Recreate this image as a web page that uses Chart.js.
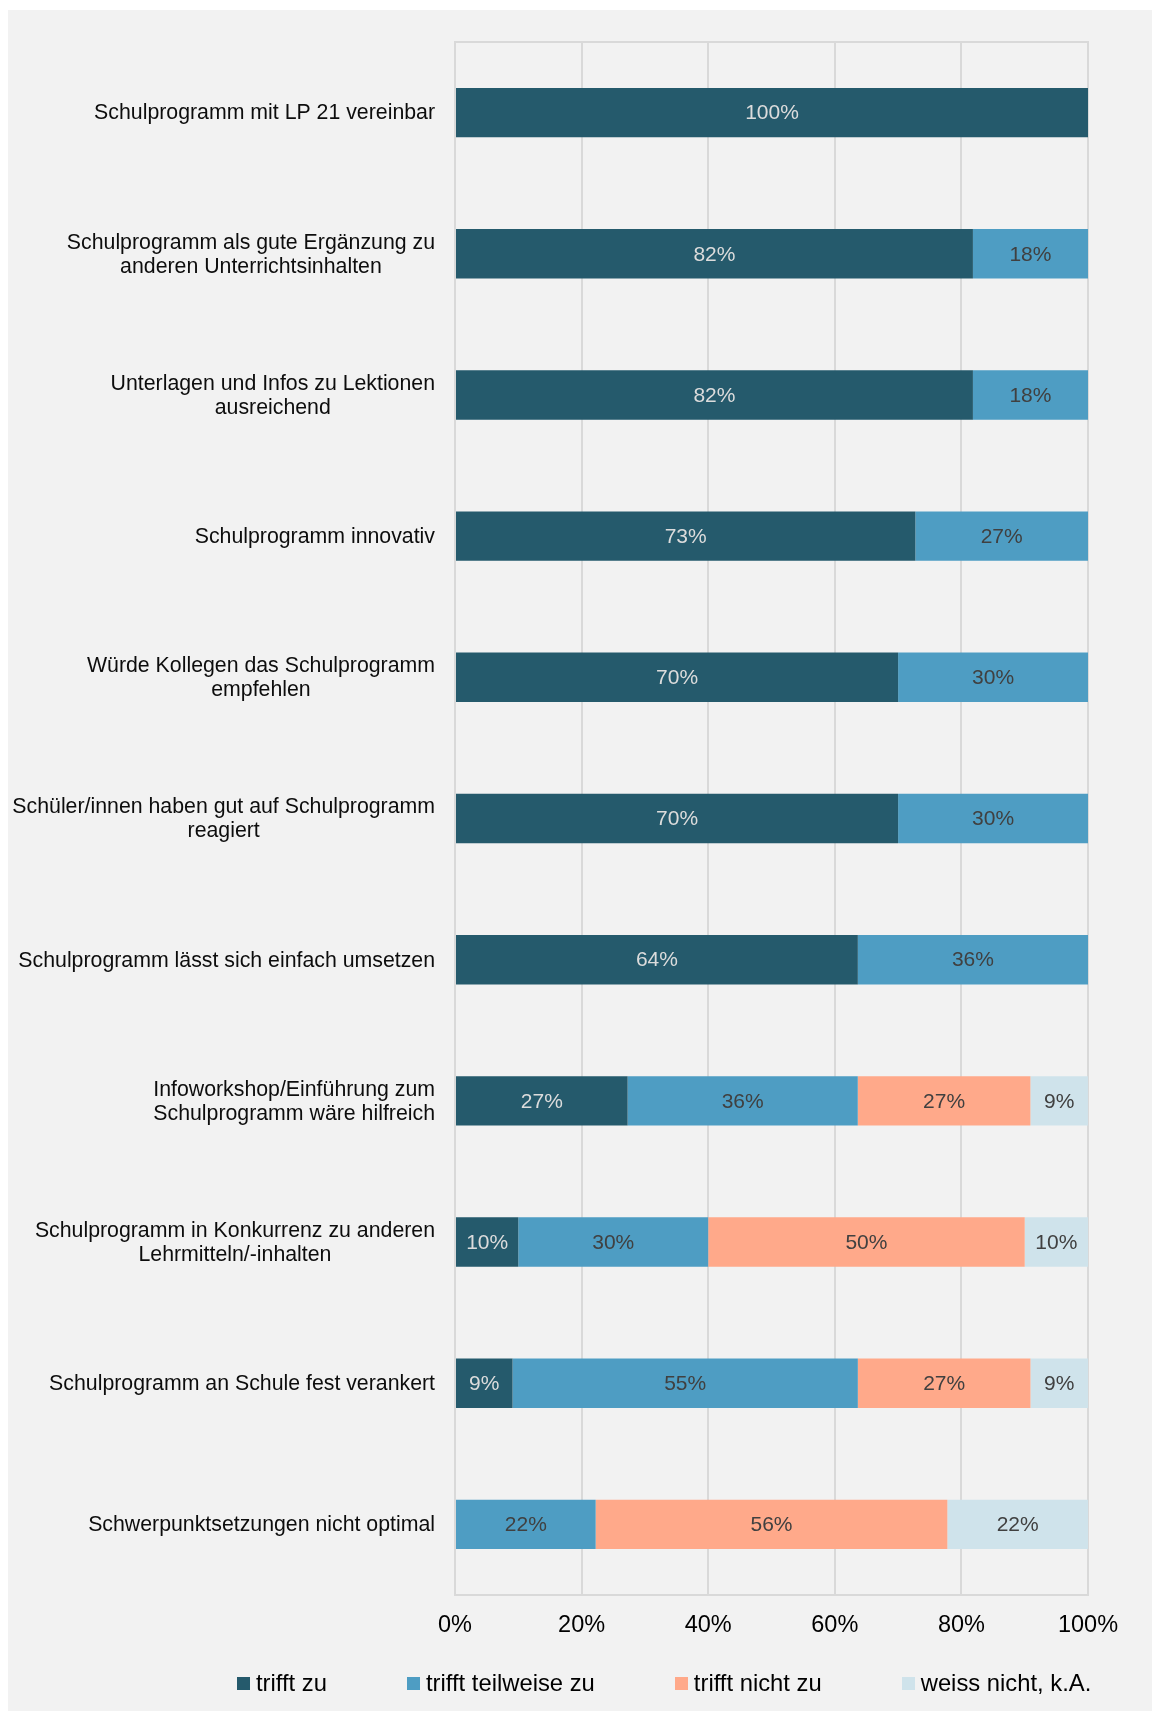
<!DOCTYPE html>
<html>
<head>
<meta charset="utf-8">
<script src="https://cdn.jsdelivr.net/npm/chart.js@4.4.1/dist/chart.umd.min.js"></script>
<style>
    html, body { margin: 0; padding: 0; background: #fff; }
    #wrap { position: relative; width: 1152px; height: 1711px; overflow: hidden; }
    #panel { position: absolute; left: 8px; top: 10px; right: 0; bottom: 0; background: #F2F2F2; }
    #chart { position: absolute; left: 0; top: 0; }
    #legend { position: absolute; left: 237px; top: 1669px; display: flex; align-items: center;
              font: 23.8px 'Liberation Sans', Arial, sans-serif; line-height: 28px; color: #000; white-space: nowrap; }
    .item { display: flex; align-items: center; margin-right: 80px; }
    .box { width: 13px; height: 13px; margin-right: 6px; }
</style>
</head>
<body>
<div id="wrap">
    <div id="panel"></div>
    <canvas id="chart" width="1152" height="1711"></canvas>
    <div id="legend"></div>
</div>
<script>
'use strict';

var categories = [
    ['Schulprogramm mit LP 21 vereinbar'],
    ['Schulprogramm als gute Ergänzung zu', 'anderen Unterrichtsinhalten'],
    ['Unterlagen und Infos zu Lektionen', 'ausreichend'],
    ['Schulprogramm innovativ'],
    ['Würde Kollegen das Schulprogramm', 'empfehlen'],
    ['Schüler/innen haben gut auf Schulprogramm', 'reagiert'],
    ['Schulprogramm lässt sich einfach umsetzen'],
    ['Infoworkshop/Einführung zum', 'Schulprogramm wäre hilfreich'],
    ['Schulprogramm in Konkurrenz zu anderen', 'Lehrmitteln/-inhalten'],
    ['Schulprogramm an Schule fest verankert'],
    ['Schwerpunktsetzungen nicht optimal']
];

var seriesNames = ['trifft zu', 'trifft teilweise zu', 'trifft nicht zu', 'weiss nicht, k.A.'];
var seriesColors = ['#255A6C', '#4E9DC3', '#FFA98A', '#CFE3EB'];

var trifftZu = [100, 81.82, 81.82, 72.73, 70, 70, 63.64, 27.27, 10, 9.09, 0];
var trifftTeilweise = [0, 18.18, 18.18, 27.27, 30, 30, 36.36, 36.36, 30, 54.55, 22.22];
var trifftNicht = [0, 0, 0, 0, 0, 0, 0, 27.27, 50, 27.27, 55.56];
var weissNicht = [0, 0, 0, 0, 0, 0, 0, 9.09, 10, 9.09, 22.22];

var xTicks = [0, 20, 40, 60, 80, 100];

var FONT = "'Liberation Sans', Arial, sans-serif";

// frame around the plot area
var plotFrame = {
    id: 'plotFrame',
    beforeDatasetsDraw(chart) {
        var a = chart.chartArea, ctx = chart.ctx;
        ctx.save();
        ctx.strokeStyle = '#D9D9D9';
        ctx.lineWidth = 2;
        ctx.strokeRect(a.left, a.top, a.right - a.left, a.bottom - a.top);
        ctx.restore();
    }
};

// percent labels inside the bars
var barLabels = {
    id: 'barLabels',
    afterDatasetsDraw(chart) {
        var ctx = chart.ctx;
        ctx.save();
        ctx.font = '21px ' + FONT;
        ctx.textAlign = 'center';
        ctx.textBaseline = 'middle';
        chart.data.datasets.forEach((ds, i) => {
            chart.getDatasetMeta(i).data.forEach((bar, j) => {
                var v = ds.data[j];
                if (!v) return;
                var p = bar.getCenterPoint();
                ctx.fillStyle = i === 0 ? '#DCDCDC' : '#404040';
                ctx.fillText(Math.round(v) + '%', p.x, p.y + 1);
            });
        });
        ctx.restore();
    }
};

// category labels: block right aligned, lines centred inside the block
var catLabels = {
    id: 'catLabels',
    afterDraw(chart) {
        var ctx = chart.ctx, y = chart.scales.y;
        var right = y.right - 20;
        ctx.save();
        ctx.font = '21.3px ' + FONT;
        ctx.fillStyle = '#0D0D0D';
        ctx.textAlign = 'center';
        ctx.textBaseline = 'middle';
        categories.forEach((lines, i) => {
            var cy = y.getPixelForValue(i) + 1;
            var w = Math.max.apply(null, lines.map(l => ctx.measureText(l).width));
            lines.forEach((l, k) => {
                ctx.fillText(l, right - w / 2, cy + (k - (lines.length - 1) / 2) * 24);
            });
        });
        ctx.restore();
    }
};

var seriesData = [trifftZu, trifftTeilweise, trifftNicht, weissNicht];

var chart = new Chart(document.getElementById('chart'), {
    type: 'bar',
    data: {
        labels: categories.map(l => l.join(' ')),
        datasets: seriesNames.map((name, i) => ({
            label: name,
            data: seriesData[i],
            backgroundColor: seriesColors[i],
            borderWidth: 0,
            barPercentage: 0.35,
            categoryPercentage: 1
        }))
    },
    options: {
        indexAxis: 'y',
        responsive: false,
        animation: false,
        events: [],
        layout: { padding: { left: 8, top: 42, right: 64, bottom: 56 } },
        plugins: {
            legend: { display: false },
            tooltip: { enabled: false }
        },
        scales: {
            x: {
                stacked: true,
                min: 0,
                max: 100,
                afterBuildTicks: s => { s.ticks = xTicks.map(v => ({ value: v })); },
                afterFit: s => { s.height = 60; },
                grid: { color: '#D9D9D9', lineWidth: 2, drawTicks: false },
                border: { display: false },
                ticks: {
                    padding: 16,
                    color: '#000',
                    font: { family: FONT, size: 23.5 },
                    callback: v => v + '%'
                }
            },
            y: {
                stacked: true,
                afterFit: s => { s.width = 447; },
                grid: { display: false },
                border: { display: false },
                ticks: { display: false }
            }
        }
    },
    plugins: [plotFrame, barLabels, catLabels]
});

// legend as html, built from the series arrays
var legendEl = document.getElementById('legend');
seriesNames.forEach((name, i) => {
    var item = document.createElement('div');
    item.className = 'item';
    var box = document.createElement('span');
    box.className = 'box';
    box.style.background = seriesColors[i];
    var txt = document.createElement('span');
    txt.textContent = name;
    item.appendChild(box);
    item.appendChild(txt);
    legendEl.appendChild(item);
});
</script>
</body>
</html>
